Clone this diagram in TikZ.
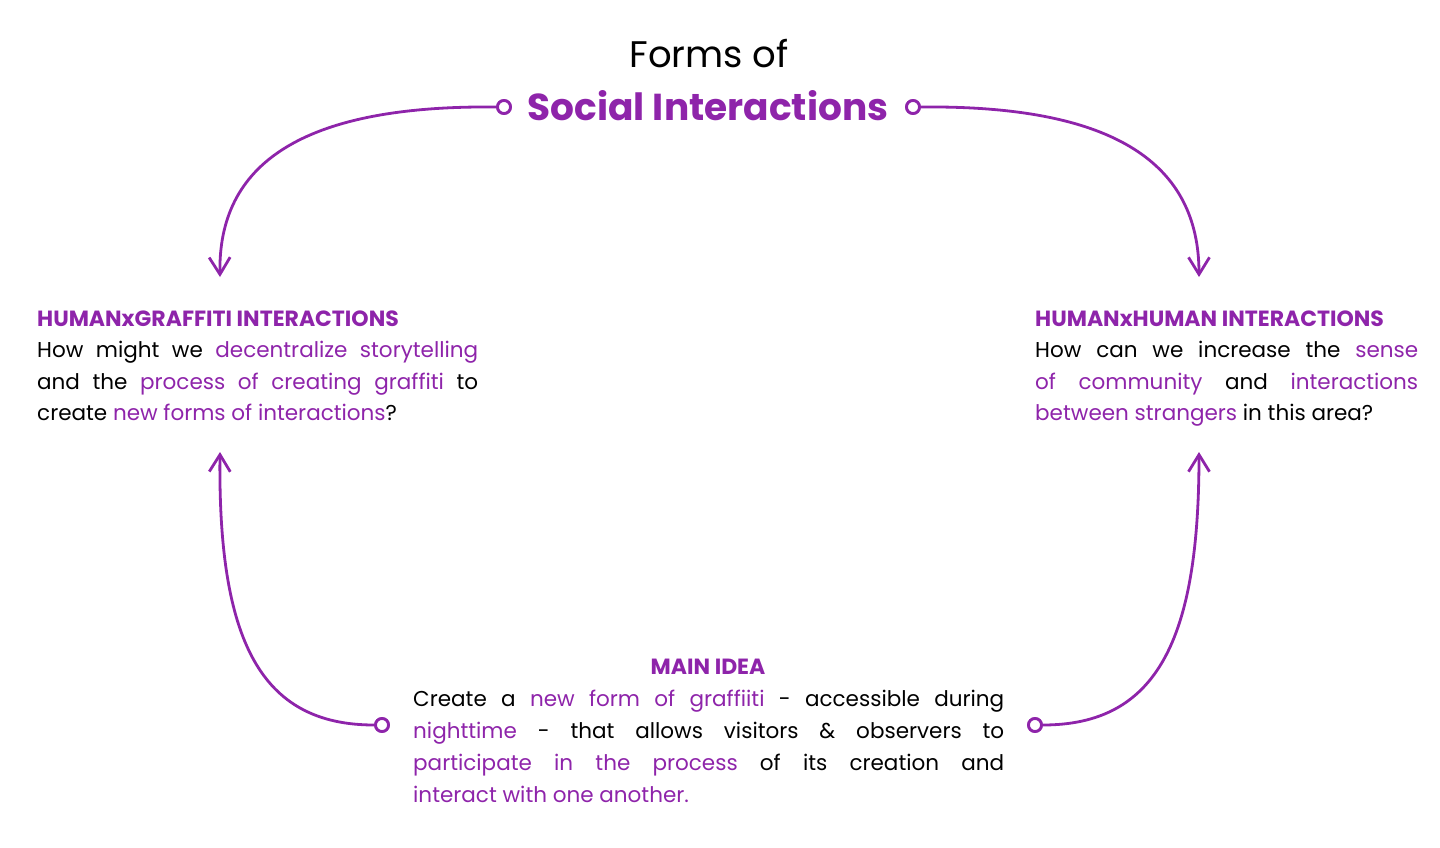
\documentclass[tikz,border=0pt]{standalone}
\usepackage{fontspec}
\setmainfont{Poppins}
\usetikzlibrary{arrows.meta}
\definecolor{pur}{HTML}{8E24AA}
\newcommand{\hl}[1]{\textcolor{pur}{#1}}
\begin{document}
\begin{tikzpicture}[x=1pt,y=-1pt,
  body/.style={anchor=base west, inner sep=0pt, font=\fontsize{21.5}{26}\selectfont},
  head/.style={anchor=base west, inner sep=0pt, font=\fontsize{22}{26}\selectfont\bfseries, text=pur},
  dot/.style={circle, draw=pur, line width=2.8pt, fill=white, minimum size=13pt, inner sep=0pt},
  conn/.style={draw=pur, line width=2.8pt, -{Straight Barb[length=17pt,width=21pt]}}]
\useasboundingbox (0,0) rectangle (1440,847);
% title
\node[anchor=base, inner sep=0pt, font=\fontsize{37}{44}\selectfont] (t1) at (709,67) {Forms of};
\node[anchor=base, inner sep=0pt, font=\fontsize{37.5}{44}\selectfont\bfseries, text=pur] (t2) at (708,120) {Social Interactions};
% arrow tips
\coordinate (a1) at (220,277);
\coordinate (a2) at (1199,277);
\coordinate (a3) at (220,452);
\coordinate (a4) at (1199,452);
% connectors
\node[dot] (c1) at (504,107) {};
\node[dot] (c2) at (913,107) {};
\node[dot] (c3) at (382,725) {};
\node[dot] (c4) at (1035,725) {};
\draw[conn] (c1.west) .. controls (300,105) and (218,165) .. (a1);
\draw[conn] (c2.east) .. controls (1117,105) and (1199,165) .. (a2);
\draw[conn] (c3.west) .. controls (260,725) and (218,640) .. (a3);
\draw[conn] (c4.east) .. controls (1157,725) and (1199,640) .. (a4);
\node[dot] at (c1) {};
\node[dot] at (c2) {};
\node[dot] at (c3) {};
\node[dot] at (c4) {};
% left block
\node[head] (lh) at (37,326) {HUMANxGRAFFITI INTERACTIONS};
\node[body] (l1) at (37,357) {\makebox[441pt][s]{How might we \hl{decentralize storytelling}}};
\node[body] (l2) at (37,389) {\makebox[441pt][s]{and the \hl{process of creating graffiti} to}};
\node[body] (l3) at (37,420) {create \hl{new forms of interactions}?};
% right block
\node[head] (rh) at (1035,326) {HUMANxHUMAN INTERACTIONS};
\node[body] (r1) at (1035,357) {\makebox[383pt][s]{How can we increase the \hl{sense}}};
\node[body] (r2) at (1035,389) {\makebox[383pt][s]{\hl{of community} and \hl{interactions}}};
\node[body] (r3) at (1035,420) {\hl{between strangers} in this area?};
% main block
\node[anchor=base, inner sep=0pt, font=\fontsize{22}{26}\selectfont\bfseries, text=pur] (mh) at (708,674) {MAIN IDEA};
\node[body] (m1) at (413,706) {\makebox[591pt][s]{Create a \hl{new form of graffiiti} - accessible during}};
\node[body] (m2) at (413,738) {\makebox[591pt][s]{\hl{nighttime} - that allows visitors \& observers to}};
\node[body] (m3) at (413,770) {\makebox[591pt][s]{\hl{participate in the process} of its creation and}};
\node[body] (m4) at (413,802) {\hl{interact with one another.}};
\end{tikzpicture}
\end{document}
